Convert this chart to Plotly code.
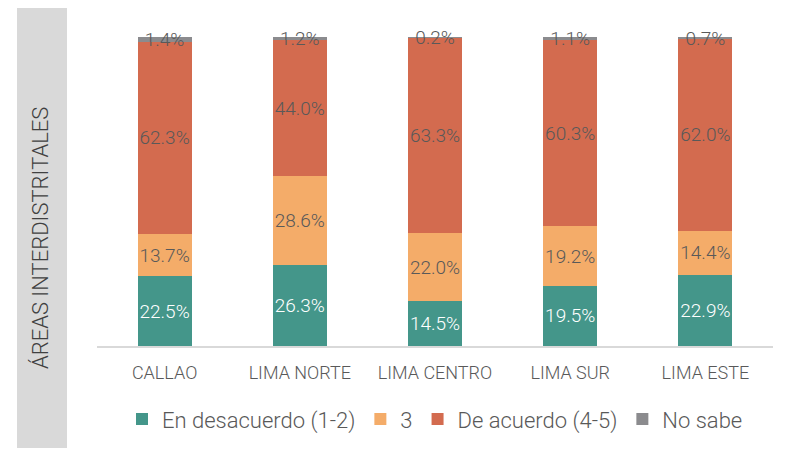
import plotly.graph_objects as go

categories = ["CALLAO", "LIMA NORTE", "LIMA CENTRO", "LIMA SUR", "LIMA ESTE"]
desacuerdo = [22.5, 26.3, 14.5, 19.5, 22.9]
neutral = [13.7, 28.6, 22.0, 19.2, 14.4]
acuerdo = [62.3, 44.0, 63.3, 60.3, 62.0]
no_sabe = [1.4, 1.2, 0.2, 1.1, 0.7]

series_names = ["En desacuerdo (1-2)", "3", "De acuerdo (4-5)", "No sabe"]
colors = ["#44968A", "#F4AC69", "#D36B4F", "#8B8B8E"]
label_colors = ["#FFFFFF", "#595959", "#595959", "#595959"]
FONT = "Roboto"
WEIGHT = 300

fig = go.Figure()
all_series = [desacuerdo, neutral, acuerdo, no_sabe]
for i, (name, vals) in enumerate(zip(series_names, all_series)):
    fig.add_trace(go.Bar(
        x=categories, y=vals, name=name,
        marker=dict(color=colors[i], line=dict(width=0)),
        width=0.4,
        text=[f"{v:.1f}%" for v in vals] if i < 3 else None,
        textposition="inside" if i < 3 else "none",
        insidetextanchor="middle",
        textangle=0,
        textfont=dict(color=label_colors[i], size=19, family=FONT, weight=WEIGHT),
        hoverinfo="skip",
    ))

# labels for the thin "No sabe" segment, placed at its middle
tops = [a + b + c + d for a, b, c, d in zip(desacuerdo, neutral, acuerdo, no_sabe)]
fig.add_trace(go.Scatter(
    x=categories, y=[t - v / 2 - 0.6 for t, v in zip(tops, no_sabe)],
    mode="text", text=[f"{v:.1f}%" for v in no_sabe],
    textposition="middle center",
    textfont=dict(color="#595959", size=19, family=FONT, weight=WEIGHT),
    showlegend=False, hoverinfo="skip", cliponaxis=False,
))

OFF = 8  # page body margin
W, H = 812 - OFF, 452 - OFF
L, R, T, B = 97 - OFF, 812 - 773, 37 - OFF, 452 - 349
pw, ph = W - L - R, H - T - B

def px_x(x):
    return (x - OFF - L) / pw

def px_y(y):
    return (H - B - (y - OFF)) / ph

fig.update_layout(
    width=W, height=H,
    margin=dict(l=L, r=R, t=T, b=B, pad=0),
    barmode="stack",
    plot_bgcolor="white", paper_bgcolor="white",
    font=dict(family=FONT, color="#595959"),
    uniformtext=dict(minsize=19, mode="show"),
    xaxis=dict(
        showline=True, linecolor="#D9D9D9", linewidth=2,
        ticks="", ticklabelstandoff=9,
        tickfont=dict(size=18, color="#595959", family=FONT, weight=WEIGHT),
        showgrid=False, fixedrange=True,
    ),
    yaxis=dict(
        range=[0, 100], visible=False, showgrid=False, fixedrange=True,
    ),
    legend=dict(
        orientation="h", x=0.5, xanchor="center",
        y=px_y(423), yanchor="middle",
        traceorder="normal",
        font=dict(size=22, color="#595959", family=FONT, weight=WEIGHT),
        itemwidth=30, tracegroupgap=0,
    ),
    showlegend=True,
    shapes=[
        dict(type="rect", xref="paper", yref="paper",
             x0=px_x(17), x1=px_x(67), y0=px_y(6), y1=px_y(452),
             fillcolor="#D9D9D9", line=dict(width=0), layer="below"),
        dict(type="line", xref="paper", yref="paper",
             x0=px_x(64), x1=px_x(812), y0=px_y(5), y1=px_y(5),
             line=dict(color="#D9D9D9", width=2)),
        dict(type="line", xref="paper", yref="paper",
             x0=px_x(809), x1=px_x(809), y0=px_y(5), y1=px_y(452),
             line=dict(color="#E6E6E6", width=1)),
    ],
    annotations=[
        dict(text="ÁREAS INTERDISTRITALES", textangle=-90,
             xref="paper", yref="paper", x=px_x(40), y=px_y(240),
             xanchor="center", yanchor="middle", showarrow=False,
             font=dict(size=22, color="#404040", family=FONT, weight=WEIGHT)),
    ],
)

fig.write_html("out.html")
